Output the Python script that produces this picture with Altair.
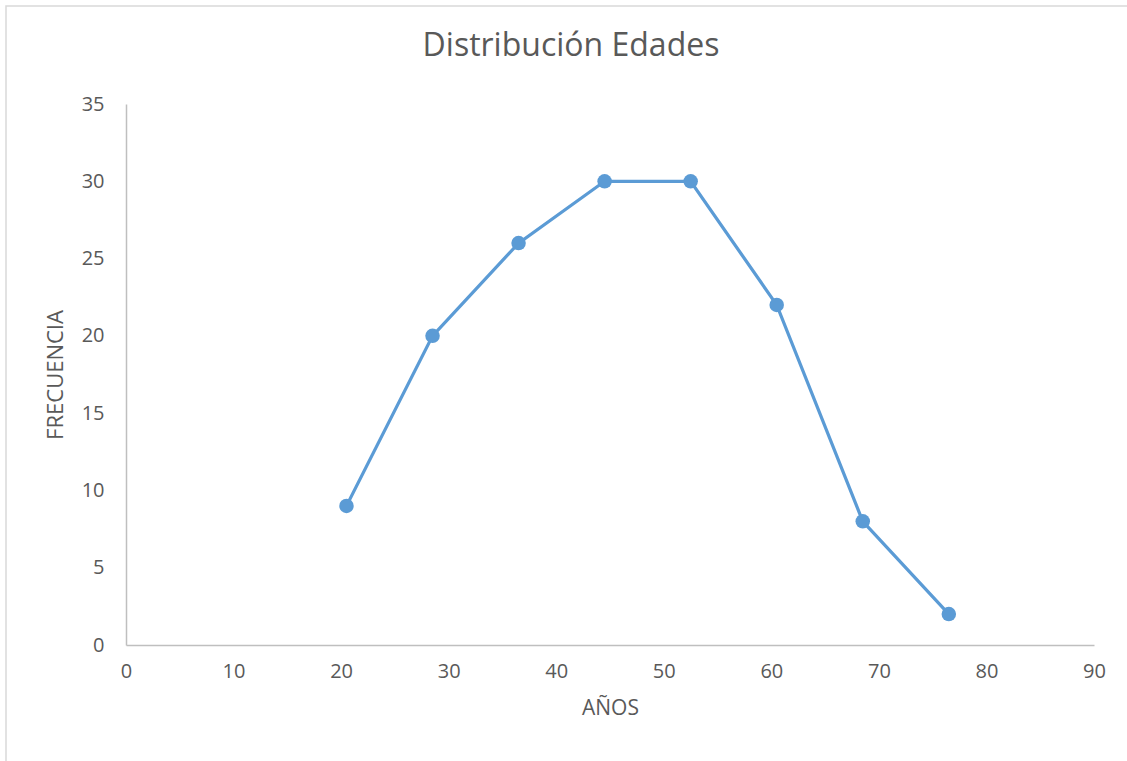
import altair as alt
import pandas as pd

# Class marks (ages) and their frequencies
edades = [20.5, 28.5, 36.5, 44.5, 52.5, 60.5, 68.5, 76.5]
frecuencias = [9, 20, 26, 30, 30, 22, 8, 2]

x_ticks = [0, 10, 20, 30, 40, 50, 60, 70, 80, 90]
y_ticks = [0, 5, 10, 15, 20, 25, 30, 35]

df = pd.DataFrame({"edad": edades, "frecuencia": frecuencias})

FONT = "Open Sans"
BLUE = "#5b9bd5"
TEXT = "#595959"
W, H = 968, 541

x_enc = alt.X(
    "edad:Q",
    scale=alt.Scale(domain=[0, 90], nice=False, zero=True),
    axis=alt.Axis(
        title="AÑOS",
        values=x_ticks,
        grid=False,
        ticks=False,
        domainColor="#bfbfbf",
        domainWidth=1.5,
        labelFont=FONT,
        labelFontSize=20,
        labelColor=TEXT,
        labelPadding=16,
        labelFlush=False,
        titleFont=FONT,
        titleFontSize=21,
        titleFontWeight="normal",
        titleColor=TEXT,
        titlePadding=16,
    ),
)
y_enc = alt.Y(
    "frecuencia:Q",
    scale=alt.Scale(domain=[0, 35], nice=False),
    axis=alt.Axis(
        title="FRECUENCIA",
        values=y_ticks,
        grid=False,
        ticks=False,
        domainColor="#bfbfbf",
        domainWidth=1.5,
        labelFont=FONT,
        labelFontSize=20,
        labelColor=TEXT,
        labelPadding=22,
        labelFlush=False,
        titleFont=FONT,
        titleFontSize=22,
        titleFontWeight="normal",
        titleColor=TEXT,
        titlePadding=14,
    ),
)

base = alt.Chart(df)
line = base.mark_line(color=BLUE, strokeWidth=3.25).encode(x=x_enc, y=y_enc)
points = base.mark_point(filled=True, color=BLUE, size=210, opacity=1).encode(
    x="edad:Q", y="frecuencia:Q"
)

# Light frame around the whole chart
frame = alt.Chart(pd.DataFrame({"k": [0]})).mark_rect(
    fill=None, stroke="#d9d9d9", strokeWidth=1.5
).encode(
    x=alt.value(-120), x2=alt.value(W + 60),
    y=alt.value(-98), y2=alt.value(H + 160),
)

chart = (
    alt.layer(frame, line, points)
    .properties(
        width=W,
        height=H,
        background="white",
        title=alt.TitleParams(
            "Distribución Edades",
            font=FONT,
            fontSize=32,
            fontWeight="normal",
            color=TEXT,
            anchor="middle",
            baseline="alphabetic",
            offset=0,
            dx=-39,
            dy=83,
        ),
        autosize=alt.AutoSizeParams(type="none"),
        padding={"left": 126, "top": 104, "right": 33, "bottom": 116},
    )
    .configure_view(strokeOpacity=0, strokeWidth=0)
)

chart.save("out.html", embed_options={"renderer": "svg", "actions": False})
